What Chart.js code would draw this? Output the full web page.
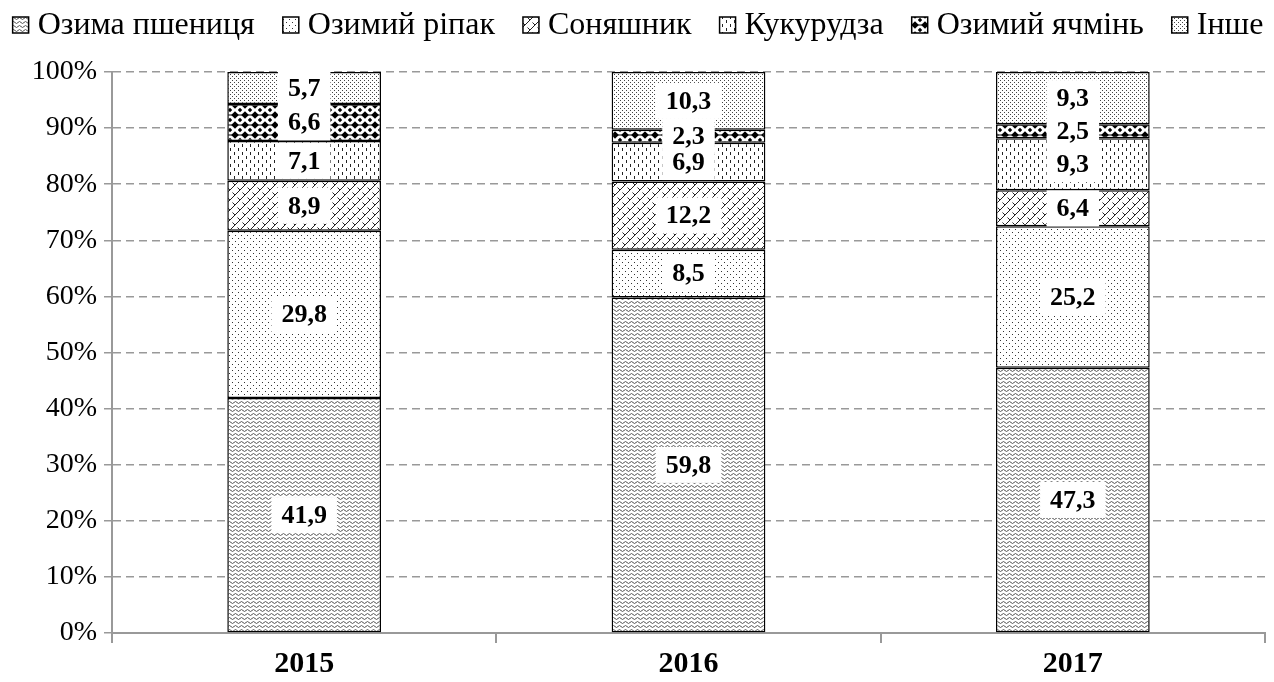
<!DOCTYPE html>
<html>
<head>
<meta charset="utf-8">
<script src="https://cdn.jsdelivr.net/npm/chart.js@4/dist/chart.umd.min.js"></script>
<style>
  html, body { margin: 0; padding: 0; background: #fff; }
  #wrap { width: 1274px; height: 682px; }
</style>
</head>
<body>
<div id="wrap"><canvas id="cropChart" width="1274" height="682"></canvas></div>
<script>
// Data
const years = ['2015', '2016', '2017'];
const crops = ['Озима пшениця', 'Озимий ріпак', 'Соняшник', 'Кукурудза', 'Озимий ячмінь', 'Інше'];
const wheat = [41.9, 59.8, 47.3];
const rapeseed = [29.8, 8.5, 25.2];
const sunflower = [8.9, 12.2, 6.4];
const corn = [7.1, 6.9, 9.3];
const barley = [6.6, 2.3, 2.5];
const other = [5.7, 10.3, 9.3];
const yTicks = [0, 10, 20, 30, 40, 50, 60, 70, 80, 90, 100];

// Pattern helpers
function makePattern(w, h, draw) {
  const c = document.createElement('canvas');
  c.width = w; c.height = h;
  const g = c.getContext('2d');
  g.fillStyle = '#fff';
  g.fillRect(0, 0, w, h);
  draw(g);
  return document.createElement('canvas').getContext('2d').createPattern(c, 'repeat');
}

const patterns = [
  // wheat: small waves
  makePattern(6, 4, g => {
    g.strokeStyle = '#555'; g.lineWidth = 1;
    g.beginPath();
    g.moveTo(0, 2.5); g.quadraticCurveTo(1.5, 0.5, 3, 2.5); g.quadraticCurveTo(4.5, 4.5, 6, 2.5);
    g.stroke();
  }),
  // rapeseed: sparse dots
  makePattern(6, 6, g => {
    g.fillStyle = '#333';
    g.fillRect(1, 1, 1, 1);
    g.fillRect(4, 4, 1, 1);
  }),
  // sunflower: diagonal brick
  makePattern(10, 10, g => {
    g.strokeStyle = '#222'; g.lineWidth = 1;
    g.beginPath();
    g.moveTo(0, 10); g.lineTo(10, 0);
    g.moveTo(-5, 5); g.lineTo(5, -5);
    g.moveTo(5, 15); g.lineTo(15, 5);
    g.moveTo(2.5, 2.5); g.lineTo(5, 5);
    g.moveTo(7.5, 7.5); g.lineTo(10, 10);
    g.moveTo(-2.5, 7.5); g.lineTo(0, 10);
    g.moveTo(7.5, -2.5); g.lineTo(10, 0);
    g.stroke();
  }),
  // corn: vertical dashes
  makePattern(8, 8, g => {
    g.fillStyle = '#222';
    g.fillRect(2, 0, 1, 3);
    g.fillRect(6, 4, 1, 3);
  }),
  // barley: black diamonds
  makePattern(10, 10, g => {
    g.fillStyle = '#000';
    const dia = (x, y, r) => {
      g.beginPath();
      g.moveTo(x, y - r); g.lineTo(x + r, y); g.lineTo(x, y + r); g.lineTo(x - r, y); g.closePath(); g.fill();
    };
    dia(5, 5, 3.8);
    dia(0, 0, 2.2); dia(10, 0, 2.2); dia(0, 10, 2.2); dia(10, 10, 2.2);
    g.strokeStyle = '#000';
    g.beginPath(); g.moveTo(0, 5); g.lineTo(10, 5); g.stroke();
  }),
  // other: dense dots
  makePattern(4, 4, g => {
    g.fillStyle = '#444';
    g.fillRect(0, 0, 1, 1);
    g.fillRect(2, 2, 1, 1);
  })
];

const seriesValues = [wheat, rapeseed, sunflower, corn, barley, other];

const datasets = crops.map((name, i) => ({
  label: name,
  data: seriesValues[i],
  backgroundColor: patterns[i],
  borderColor: '#000',
  borderWidth: 1.5,
  borderSkipped: false,
  barPercentage: 0.4,
  categoryPercentage: 1.0
}));

// Value labels on white boxes
const valueLabels = {
  id: 'valueLabels',
  afterDatasetsDraw(chart) {
    const ctx = chart.ctx;
    ctx.save();
    ctx.font = 'bold 26px "Liberation Serif"';
    ctx.textAlign = 'center';
    ctx.textBaseline = 'middle';
    const items = [];
    chart.data.datasets.forEach((ds, di) => {
      chart.getDatasetMeta(di).data.forEach((bar, i) => {
        items.push({ txt: ds.data[i].toFixed(1).replace('.', ','), x: bar.x, y: (bar.y + bar.base) / 2 });
      });
    });
    ctx.fillStyle = '#fff';
    items.forEach(it => {
      const w = ctx.measureText(it.txt).width + 20;
      const h = 36;
      ctx.fillRect(it.x - w / 2, it.y - h / 2, w, h);
    });
    ctx.fillStyle = '#000';
    items.forEach(it => ctx.fillText(it.txt, it.x, it.y + 1));
    ctx.restore();
  }
};

// Legend drawn across the top
const topLegend = {
  id: 'topLegend',
  afterDraw(chart) {
    const ctx = chart.ctx;
    const box = 16, gapText = 9, gapItem = 28;
    ctx.save();
    ctx.font = '32px "Liberation Serif"';
    ctx.textBaseline = 'middle';
    const widths = crops.map(c => ctx.measureText(c).width);
    const total = widths.reduce((a, b) => a + b, 0) + crops.length * (box + gapText) + (crops.length - 1) * gapItem;
    let x = (chart.width - total) / 2 + 1;
    const yc = 25;
    crops.forEach((c, i) => {
      ctx.fillStyle = patterns[i];
      ctx.fillRect(x, yc - box / 2, box, box);
      ctx.strokeStyle = '#000';
      ctx.lineWidth = 1.5;
      ctx.strokeRect(x, yc - box / 2, box, box);
      ctx.fillStyle = '#000';
      ctx.fillText(c, x + box + gapText, yc + 1);
      x += box + gapText + widths[i] + gapItem;
    });
    ctx.restore();
  }
};

new Chart(document.getElementById('cropChart'), {
  type: 'bar',
  data: { labels: years, datasets: datasets },
  plugins: [valueLabels, topLegend],
  options: {
    responsive: false,
    animation: false,
    layout: { padding: { left: 32, right: 9, top: 72, bottom: 0 } },
    plugins: {
      tooltip: { enabled: false },
      legend: { display: false }
    },
    scales: {
      x: {
        stacked: true,
        afterFit: s => { s.height = 49; },
        grid: { display: true, drawOnChartArea: false, color: '#999', lineWidth: 2, tickLength: 10 },
        border: { color: '#999', width: 2 },
        ticks: { color: '#000', font: { family: 'Liberation Serif', size: 30, weight: 'bold', lineHeight: 1 }, padding: 6 }
      },
      y: {
        stacked: true,
        min: 0,
        max: 100,
        afterFit: s => { s.width = 80; },
        afterBuildTicks: axis => { axis.ticks = yTicks.map(v => ({ value: v })); },
        grid: { color: '#999', lineWidth: 1.5, tickLength: 8, tickBorderDash: [0, 0] },
        border: { color: '#999', width: 2, dash: [8, 5] },
        ticks: {
          color: '#000',
          font: { family: 'Liberation Serif', size: 28, lineHeight: 1 },
          padding: 7,
          callback: v => v + '%'
        }
      }
    }
  }
});
</script>
</body>
</html>
